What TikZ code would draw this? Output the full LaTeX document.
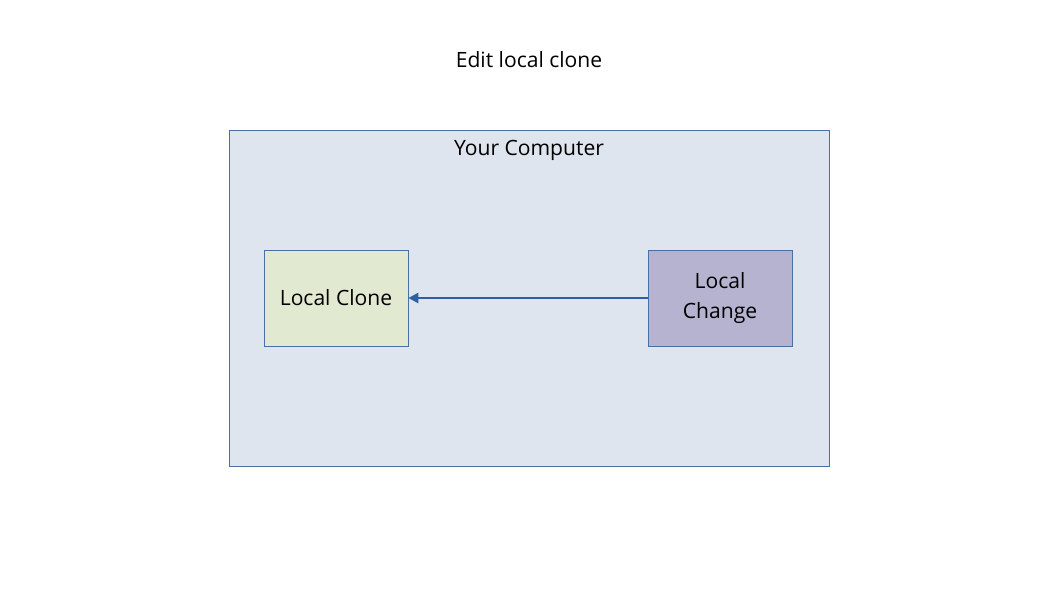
\documentclass[tikz,border=0pt]{standalone}
\usepackage{fontspec}
\setmainfont{Open Sans}
\usetikzlibrary{arrows.meta}
\definecolor{boxline}{HTML}{4A6FA5}
\definecolor{pcfill}{HTML}{DEE5EE}
\definecolor{clonefill}{HTML}{E1EAD0}
\definecolor{changefill}{HTML}{B5B3CF}
\definecolor{arrowblue}{HTML}{2E5FA0}
\tikzset{
    box/.style={
        draw=boxline,
        rectangle,
        minimum width=2.88cm,
        minimum height=1.92cm,
        align=center,
        font=\fontsize{12}{17}\selectfont
    }
}
\begin{document}
\begin{tikzpicture}[x=0.02cm, y=-0.02cm]
    \useasboundingbox (0,0) rectangle (1058,595);
    % Frame
    \node[draw=boxline, fill=pcfill, minimum width=12cm, minimum height=6.72cm] (pc) at (529,298) {};
    \node[font=\fontsize{12}{14}\selectfont] (title) at (529,60) {Edit local clone};
    \node[font=\fontsize{12}{14}\selectfont] (pclabel) at (529,150) {Your Computer};
    
    % Boxes
    \node[box, fill=clonefill] (clone) at (336,298) {Local Clone};
    \node[box, fill=changefill] (change) at (720,298) {Local\\Change};
    
    % Edges
    \draw[arrowblue, line width=1.5pt, -{Triangle[length=2mm, width=2mm]}] (change) -- (clone);
\end{tikzpicture}
\end{document}
